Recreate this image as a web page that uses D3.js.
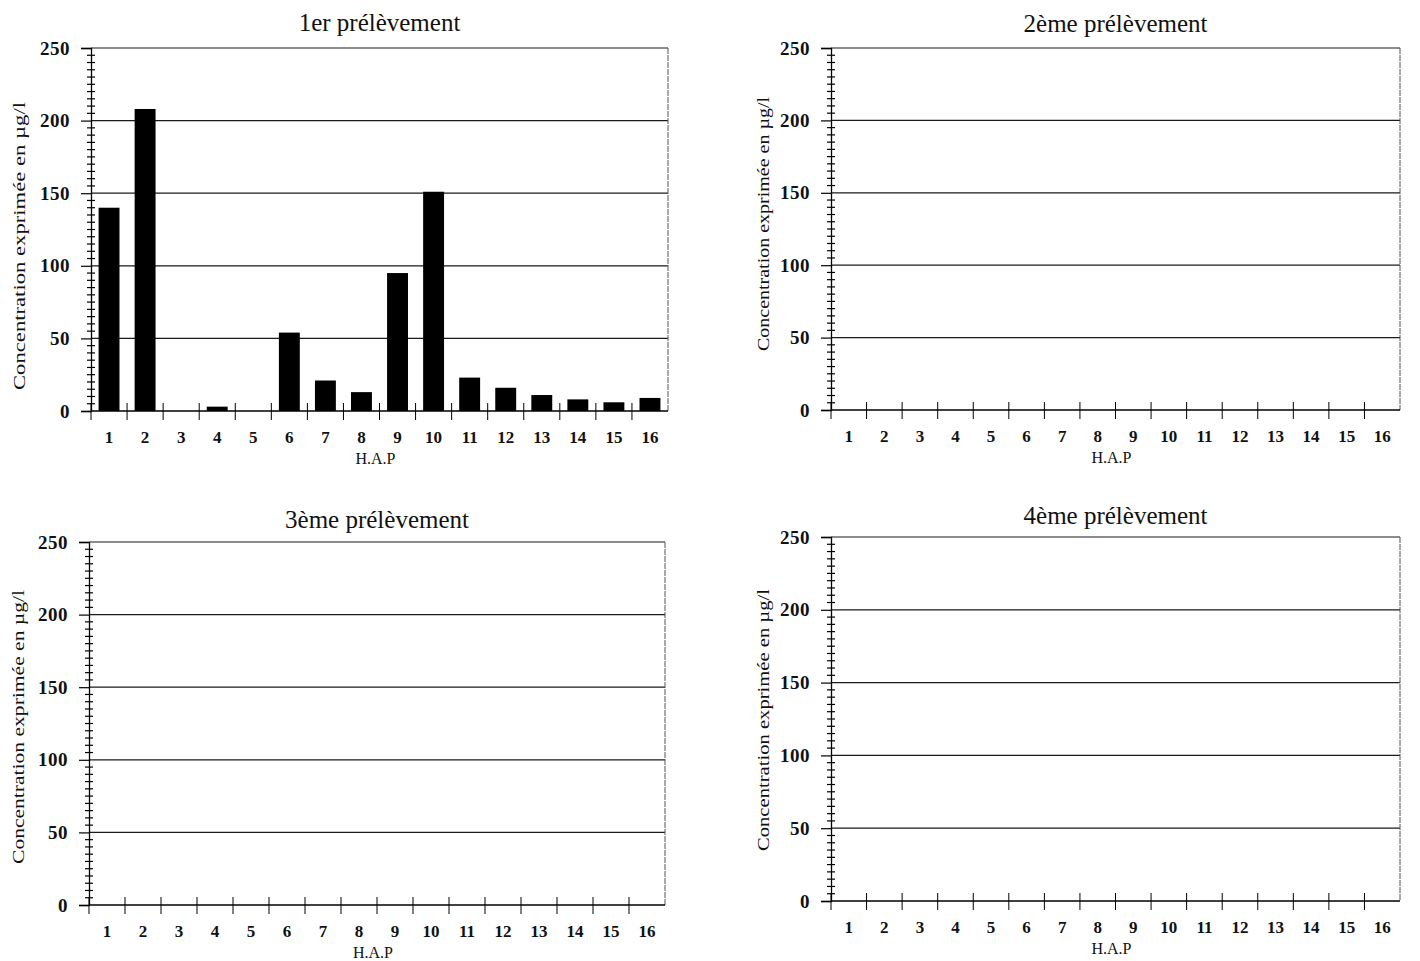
<!DOCTYPE html>
<html><head><meta charset="utf-8">
<script src="https://cdn.jsdelivr.net/npm/d3@7"></script>
<style>body{margin:0;background:#fff}svg{display:block}</style>
</head><body>
<svg id="c" width="1420" height="961"></svg>
<script>
const categories = ["1","2","3","4","5","6","7","8","9","10","11","12","13","14","15","16"];
const prelevement1 = [140,208,0,3,0,54,21,13,95,151,23,16,11,8,6,9];
const prelevement2 = [];
const prelevement3 = [];
const prelevement4 = [];
const titles = ["1er prélèvement","2ème prélèvement","3ème prélèvement","4ème prélèvement"];
const yMajorTicks = [0,50,100,150,200,250];
const yTitle = "Concentration exprimée en µg/l";
const xTitle = "H.A.P";

const panels = [
  {data:prelevement1, title:titles[0], l:91,  r:668,  t:48,  b:411, ty:31, yx:19,  yc:246, yl:288},
  {data:prelevement2, title:titles[1], l:831, r:1400, t:48,  b:410, ty:32, yx:763, yc:224, yl:254},
  {data:prelevement3, title:titles[2], l:89,  r:665,  t:542, b:905, ty:528, yx:18, yc:727, yl:274},
  {data:prelevement4, title:titles[3], l:831, r:1400, t:537, b:901, ty:524, yx:763, yc:720, yl:262}
];
const svg = d3.select("#c");
const font = "'Liberation Serif','Times New Roman',serif";

panels.forEach(p => {
  const g = svg.append("g");
  const x = d3.scaleBand().domain(categories).range([p.l,p.r]).paddingInner(0.42).paddingOuter(0.21);
  const xb = d3.scaleBand().domain(categories).range([p.l,p.r]);
  const y = d3.scaleLinear().domain([0,250]).range([p.b,p.t]);

  // gridlines
  g.selectAll("line.grid").data(yMajorTicks.slice(1)).join("line")
    .attr("x1",p.l).attr("x2",p.r).attr("y1",d=>y(d)).attr("y2",d=>y(d))
    .attr("stroke","#1a1a1a").attr("stroke-width",1.2);
  // right border
  g.append("line").attr("x1",p.r).attr("x2",p.r).attr("y1",p.t).attr("y2",p.b)
    .attr("stroke","#555").attr("stroke-width",1).attr("stroke-dasharray","6,1");

  // bars
  g.selectAll("rect.bar").data(p.data.map((v,i)=>({c:categories[i],v}))).join("rect")
    .attr("x",d=>x(d.c)).attr("width",x.bandwidth())
    .attr("y",d=>y(d.v)).attr("height",d=>p.b-y(d.v)).attr("fill","#000");

  // y axis
  const ya = d3.axisLeft(y).tickValues(yMajorTicks).tickSize(10).tickPadding(11);
  const yg = g.append("g").attr("transform",`translate(${p.l},0)`).call(ya);
  yg.select(".domain").attr("stroke","#000").attr("stroke-width",1.3);
  yg.selectAll(".tick line").attr("stroke","#000").attr("stroke-width",1.2);
  yg.selectAll(".tick text").attr("font-family",font).attr("font-size",19).attr("font-weight","bold")
    .attr("letter-spacing",0.5).attr("fill","#111");
  // minor ticks (crossing)
  const minor = d3.range(0,251,5).filter(v=>v%50!==0);
  g.selectAll("line.minor").data(minor).join("line")
    .attr("x1",p.l-4).attr("x2",p.l+4).attr("y1",d=>y(d)).attr("y2",d=>y(d))
    .attr("stroke","#000").attr("stroke-width",1.2);

  // x axis
  g.append("line").attr("x1",p.l).attr("x2",p.r).attr("y1",p.b).attr("y2",p.b)
    .attr("stroke","#000").attr("stroke-width",1.3);
  const bounds = categories.map(c=>xb(c)+xb.bandwidth());
  g.selectAll("line.xt").data([p.l].concat(bounds.slice(0,-1))).join("line")
    .attr("x1",d=>d).attr("x2",d=>d).attr("y1",p.b-8).attr("y2",p.b+9)
    .attr("stroke","#000").attr("stroke-width",1);
  g.selectAll("text.xl").data(categories).join("text")
    .attr("x",d=>xb(d)+xb.bandwidth()/2).attr("y",p.b+32)
    .attr("text-anchor","middle").attr("font-family",font).attr("font-size",17).attr("font-weight","bold").attr("fill","#111")
    .text(d=>d);
  g.append("text").attr("x",(p.l+p.r)/2 - 4).attr("y",p.b+53)
    .attr("text-anchor","middle").attr("font-family",font).attr("font-size",16).attr("fill","#111").text(xTitle);

  // y title
  g.append("text").attr("transform",`translate(${p.yx},${p.yc}) rotate(-90)`)
    .attr("text-anchor","middle").attr("dominant-baseline","central")
    .attr("font-family",font).attr("font-size",16).attr("fill","#111")
    .attr("textLength",p.yl).attr("lengthAdjust","spacingAndGlyphs").text(yTitle);

  // title
  g.append("text").attr("x",(p.l+p.r)/2).attr("y",p.ty)
    .attr("text-anchor","middle").attr("font-family",font).attr("font-size",25).attr("fill","#111").text(p.title);
});
</script>
</body></html>
